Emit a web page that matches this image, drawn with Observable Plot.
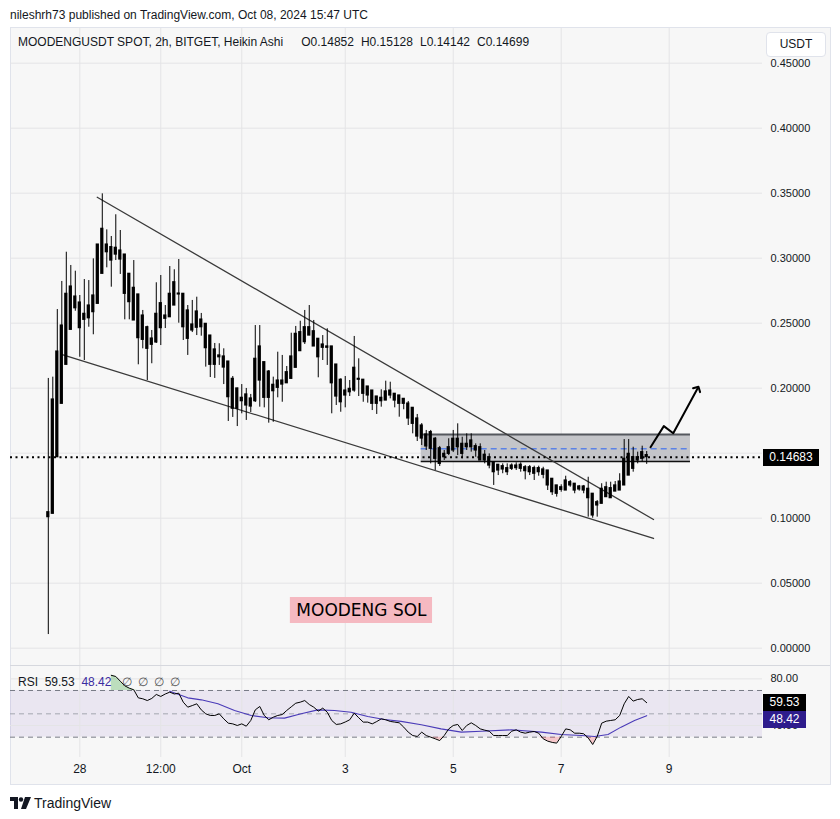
<!DOCTYPE html>
<html><head><meta charset="utf-8">
<script src="https://cdn.jsdelivr.net/npm/d3@7"></script>
<script src="https://cdn.jsdelivr.net/npm/@observablehq/plot@0.6"></script>
<style>
html,body{margin:0;padding:0;background:#fff;}
body{width:840px;height:819px;position:relative;overflow:hidden;font-family:"Liberation Sans",Arial,sans-serif;color:#131722;}
.abs{position:absolute;white-space:nowrap;}
#frame{position:absolute;left:10px;top:27px;width:819px;height:756px;background:#f7f7f7;border:1px solid #e0e3eb;}
#sep{position:absolute;left:10px;top:665px;width:820px;height:1px;background:#d6d8de;}
.badge{position:absolute;color:#fff;font-size:12px;text-align:center;line-height:17px;}
.lg span{margin-left:7px;}
</style></head>
<body>
<div id="frame"></div>
<div id="main" class="abs" style="left:10px;top:28px;"></div>
<div id="rsi" class="abs" style="left:10px;top:666px;"></div>
<div id="sep"></div>

<div class="abs" style="left:10px;top:8px;font-size:12px;color:#131722;">nileshrh73 published on TradingView.com, Oct 08, 2024 15:47 UTC</div>
<div class="abs lg" style="left:18px;top:35px;font-size:12px;color:#131722;">MOODENGUSDT SPOT, 2h, BITGET, Heikin Ashi<span style="margin-left:18px">O0.14852</span><span>H0.15128</span><span>L0.14142</span><span>C0.14699</span></div>

<div class="abs" style="left:763px;top:29px;width:66px;height:30px;background:#f7f7f7;"></div>
<div class="abs" style="left:766px;top:32px;width:58px;height:23px;background:#fff;border:1px solid #e0e3eb;border-radius:4px;font-size:12px;line-height:23px;text-align:center;">USDT</div>

<div class="badge" style="left:763px;top:449px;width:56px;height:17px;background:#000;">0.14683</div>

<div class="abs" style="left:18px;top:675px;font-size:12px;"><span>RSI</span>&nbsp;&nbsp;<span>59.53</span>&nbsp;&nbsp;<span style="color:#3b2ba0">48.42</span><span style="color:#555;margin-left:11px;letter-spacing:6px">∅∅∅∅</span></div>
<div class="badge" style="left:763px;top:694px;width:43px;height:17px;background:#000;">59.53</div>
<div class="badge" style="left:763px;top:711px;width:43px;height:17px;background:#2e1c8c;">48.42</div>

<div class="abs" style="left:10px;top:793px;">
<svg width="22" height="14" viewBox="0 0 22 14" style="vertical-align:middle">
<path d="M0 1h8v12H4V5H0z" fill="#131722"/><circle cx="11" cy="3.5" r="2.2" fill="#131722"/><path d="M15 1h6l-5 12h-5z" fill="#131722"/>
</svg><span style="font-size:14px;margin-left:2px;vertical-align:middle;">TradingView</span></div>

<script>
// ---------- DATA ----------
const candleIdx = d3.range(1, 135);
const open  = [0.1008,0.1034,0.1469,0.1880,0.2180,0.2449,0.2615,0.2659,0.2572,0.2538,0.2585,0.2649,0.2880,0.3105,0.3085,0.3028,0.3059,0.3028,0.2880,0.2772,0.2721,0.2559,0.2469,0.2382,0.2352,0.2654,0.2559,0.2546,0.2636,0.2728,0.2726,0.2598,0.2490,0.2465,0.2528,0.2495,0.2405,0.2298,0.2252,0.2244,0.2205,0.2072,0.1998,0.1926,0.1952,0.1921,0.1900,0.2059,0.2200,0.2128,0.2026,0.2003,0.2028,0.2038,0.2072,0.2157,0.2285,0.2354,0.2405,0.2438,0.2380,0.2336,0.2321,0.2321,0.2182,0.2065,0.1982,0.1995,0.1982,0.2072,0.2065,0.2013,0.1982,0.1936,0.1926,0.1905,0.1982,0.1957,0.1944,0.1918,0.1882,0.1849,0.1767,0.1713,0.1644,0.1662,0.1611,0.1538,0.1495,0.1495,0.1521,0.1546,0.1572,0.1546,0.1546,0.1554,0.1546,0.1488,0.1469,0.1431,0.1411,0.1400,0.1385,0.1380,0.1385,0.1411,0.1392,0.1392,0.1385,0.1385,0.1375,0.1367,0.1303,0.1252,0.1238,0.1213,0.1277,0.1265,0.1244,0.1244,0.1226,0.1188,0.1123,0.1111,0.1162,0.1154,0.1205,0.1213,0.1252,0.1328,0.1469,0.1469,0.1457,0.14852];
const high  = [0.2075,0.2085,0.2605,0.2821,0.3046,0.2944,0.2900,0.2713,0.2836,0.2828,0.2995,0.3105,0.3495,0.3218,0.3167,0.3334,0.3213,0.3028,0.2880,0.2982,0.2721,0.2598,0.2477,0.2444,0.2811,0.2867,0.2636,0.2936,0.2911,0.2990,0.2726,0.2636,0.2675,0.2700,0.2575,0.2495,0.2405,0.2344,0.2342,0.2303,0.2205,0.2090,0.2000,0.2028,0.1998,0.1952,0.2482,0.2482,0.2200,0.2136,0.2085,0.2277,0.2252,0.2167,0.2423,0.2475,0.2515,0.2598,0.2636,0.2521,0.2380,0.2405,0.2457,0.2321,0.2182,0.2072,0.2090,0.2059,0.2398,0.2226,0.2065,0.2013,0.1982,0.1936,0.1988,0.2054,0.2046,0.1957,0.1944,0.1918,0.1898,0.1849,0.1798,0.1728,0.1675,0.1675,0.1621,0.1552,0.1521,0.1611,0.1675,0.1726,0.1623,0.1649,0.1649,0.1572,0.1572,0.1521,0.1495,0.1431,0.1411,0.1418,0.1418,0.1418,0.1426,0.1426,0.1405,0.1405,0.1400,0.1400,0.1392,0.1367,0.1303,0.1252,0.1257,0.1323,0.1290,0.1265,0.1252,0.1252,0.1315,0.1188,0.1136,0.1265,0.1277,0.1277,0.1282,0.1342,0.1605,0.1605,0.1546,0.1508,0.1554,0.15128];
const low   = [0.0105,0.1034,0.1469,0.1880,0.2180,0.2449,0.2592,0.2238,0.2213,0.2469,0.2411,0.2649,0.2880,0.2926,0.2777,0.2982,0.2875,0.2526,0.2526,0.2521,0.2180,0.2303,0.2059,0.2188,0.2344,0.2328,0.2459,0.2546,0.2636,0.2500,0.2367,0.2252,0.2428,0.2405,0.2400,0.2162,0.2082,0.2075,0.2175,0.2028,0.1744,0.1775,0.1705,0.1803,0.1752,0.1813,0.1890,0.1854,0.1849,0.1731,0.1738,0.1926,0.1892,0.2038,0.2072,0.2157,0.2285,0.2336,0.2405,0.2321,0.2080,0.2213,0.2175,0.1803,0.1867,0.1815,0.1849,0.1936,0.1969,0.1936,0.1892,0.1885,0.1828,0.1798,0.1854,0.1905,0.1918,0.1849,0.1777,0.1834,0.1713,0.1649,0.1590,0.1559,0.1521,0.1418,0.1367,0.1398,0.1444,0.1482,0.1505,0.1482,0.1457,0.1521,0.1508,0.1469,0.1444,0.1418,0.1380,0.1252,0.1328,0.1342,0.1328,0.1367,0.1367,0.1354,0.1295,0.1328,0.1290,0.1323,0.1303,0.1213,0.1175,0.1162,0.1200,0.1213,0.1238,0.1188,0.1208,0.1188,0.1008,0.1000,0.1008,0.1111,0.1162,0.1154,0.1205,0.1213,0.1252,0.1328,0.1354,0.1418,0.1431,0.14142];
const close = [0.1046,0.1913,0.2282,0.2482,0.2726,0.2782,0.2705,0.2462,0.2526,0.2636,0.2713,0.3105,0.3226,0.3046,0.2982,0.3080,0.2990,0.2726,0.2662,0.2521,0.2385,0.2372,0.2303,0.2334,0.2572,0.2462,0.2534,0.2726,0.2815,0.2721,0.2469,0.2380,0.2444,0.2590,0.2469,0.2308,0.2180,0.2180,0.2238,0.2159,0.1931,0.1842,0.1842,0.1900,0.1867,0.1859,0.2226,0.2321,0.1926,0.1926,0.1977,0.2059,0.2059,0.2123,0.2244,0.2418,0.2431,0.2469,0.2469,0.2321,0.2238,0.2311,0.2311,0.2038,0.1936,0.1892,0.1944,0.1969,0.2157,0.2065,0.1957,0.1944,0.1880,0.1880,0.1900,0.1975,0.1944,0.1905,0.1880,0.1880,0.1767,0.1726,0.1628,0.1613,0.1552,0.1534,0.1457,0.1418,0.1469,0.1546,0.1611,0.1611,0.1495,0.1572,0.1598,0.1521,0.1444,0.1444,0.1405,0.1354,0.1367,0.1375,0.1354,0.1405,0.1405,0.1380,0.1362,0.1354,0.1342,0.1354,0.1334,0.1252,0.1200,0.1188,0.1218,0.1290,0.1252,0.1213,0.1221,0.1213,0.1154,0.1021,0.1098,0.1226,0.1238,0.1231,0.1252,0.1282,0.1457,0.1495,0.1380,0.1444,0.1508,0.14699];

const rsiIdx = d3.range(15, 135);
const rsiVal = [83,82,78,74,72,70.6,63.7,62.9,61.4,63.2,66.6,64.9,67,68.6,67,67.7,60,55.7,57.1,58.6,53.4,50,48.6,48.6,50,45.7,42,41.4,40,41.4,39.4,44.3,53.4,56.3,48.6,44.9,47.1,48.6,49.4,52.9,56,59.1,60,61.4,58,55.7,52.3,54.9,51.4,44.3,40.9,41.4,43,44.9,50.6,46.6,42.9,42.9,41.4,43.4,45.7,44.9,43.5,42.9,42.3,38.6,34.3,31.4,30.6,34.3,31.4,30,28.6,27.1,31.4,37.1,40,40.9,35.7,40,42.3,40,37.1,36,35.1,31.4,31.4,31.4,31.4,35.1,36.3,34.3,33.4,34.3,34.9,33.4,28.6,26.6,25.5,24.9,30.6,37.1,36.3,33.4,33.4,32.9,29.4,23.7,30.6,42,43.7,44.3,44.9,48.6,58.6,64.9,60.9,62.3,62.9,59.53];
const maIdx = [28,32,35,38.7,42.4,46.1,49.8,53.5,57.2,60.9,64.6,68.3,72,75.7,79.4,83.9,88.3,92.8,97.2,103.9,110.6,115,119.5,122.4,125.4,128.3,131.3,134];
const maVal = [69.4,63.7,62,58.6,52.9,48.6,46.6,46.3,50,53.4,52.9,51.4,47.7,45.1,43.5,40.7,37.1,34.3,35.1,36.3,34.3,32.3,31.4,30.6,32.3,38.6,44.3,48.42];

const priceTicks = [0,0.05,0.10,0.15,0.20,0.25,0.30,0.35,0.40,0.45];
const priceLabelTicks = [0,0.05,0.10,0.20,0.25,0.30,0.35,0.40,0.45]; // 0.15 hidden under price badge
const rsiTicks = [80,40];
const rsiLevels = [70,50,30];
const timeTickIdx = [8,26,44,67,91,115,139];
const timeTickLabels = ["28","12:00","Oct","3","5","7","9"];

const lastPrice = 0.14683;
const upperTrend = {i:[11.87,135.52], p:[0.3469,0.0990]};
const lowerTrend = {i:[4.09,135.52],  p:[0.2259,0.0844]};
const zoneBox = {i1:83.88, i2:143.73, p1:0.1436, p2:0.1644, mid:0.1534};
const arrowPath = {i:[134.85,137.81,139.9,145.3], p:[0.1546,0.1708,0.1654,0.1998]};
const labelBox = {i1:54.8, i2:86.4, p1:0.0190, p2:0.0390, text:"MOODENG SOL"};

// ---------- SCALES ----------
const xDomain = [-7.403, 159.74];
const W = 820, MR = 68;

const candles = candleIdx.map((i,k)=>({i, o:open[k], h:high[k], l:low[k], c:close[k]}));
const pairs = (o)=>o.i.map((v,k)=>({i:v, p:o.p[k]}));

const main = Plot.plot({
  width: W, height: 638,
  marginLeft: 0, marginRight: MR, marginTop: 0, marginBottom: 0,
  style: {background:"transparent", fontFamily:"Liberation Sans, Arial, sans-serif", fontSize:"11px", color:"#131722", overflow:"visible"},
  x: {domain: xDomain, axis: null, label: null},
  y: {domain: [-0.014077, 0.47669], label: null},
  marks: [
    Plot.gridY(priceTicks, {stroke:"#e4e4e6", strokeOpacity:1}),
    Plot.gridX(timeTickIdx, {stroke:"#e4e4e6", strokeOpacity:1}),
    Plot.axisY(priceLabelTicks, {anchor:"right", label:null, tickSize:0, tickPadding:8, tickFormat:d=>d.toFixed(5), fontSize:11, fill:"#131722"}),
    // zone box
    Plot.rect([zoneBox], {x1:"i1", x2:"i2", y1:"p1", y2:"p2", fill:"#c4c5c9"}),
    Plot.ruleY([zoneBox], {x1:"i1", x2:"i2", y:"p2", stroke:"#55585e", strokeWidth:2}),
    Plot.ruleY([zoneBox], {x1:"i1", x2:"i2", y:"p1", stroke:"#111", strokeWidth:1.5}),
    Plot.ruleY([zoneBox], {x1:"i1", x2:"i2", y:"mid", stroke:"#5b82e6", strokeWidth:1.5, strokeDasharray:"6,4"}),
    // trend lines
    Plot.line(pairs(upperTrend), {x:"i", y:"p", stroke:"#3a3a3a", strokeWidth:1.3}),
    Plot.line(pairs(lowerTrend), {x:"i", y:"p", stroke:"#3a3a3a", strokeWidth:1.3}),
    // candles
    Plot.ruleX(candles, {x:"i", y1:"l", y2:"h", stroke:"#000", strokeWidth:1}),
    Plot.rect(candles, {x1:d=>d.i-0.36, x2:d=>d.i+0.36, y1:d=>Math.min(d.o,d.c), y2:d=>Math.max(d.o,d.c), fill:"#000", insetTop:-0.6, insetBottom:-0.6}),
    // last price dotted line
    Plot.ruleY([lastPrice], {stroke:"#000", strokeWidth:2, strokeDasharray:"2,3.5"}),
    // arrow
    Plot.line(pairs(arrowPath), {x:"i", y:"p", stroke:"#000", strokeWidth:2, markerEnd:"arrow"}),
    // label
    Plot.rect([labelBox], {x1:"i1", x2:"i2", y1:"p1", y2:"p2", fill:"#f5b9c1"}),
    Plot.text([labelBox], {x:d=>(d.i1+d.i2)/2, y:d=>(d.p1+d.p2)/2, text:"text", fontSize:17, fill:"#000", fontFamily:"DejaVu Sans, sans-serif"})
  ]
});
document.getElementById("main").appendChild(main);

const rsiData = rsiIdx.map((i,k)=>({i, v:rsiVal[k]}));
const maData = maIdx.map((i,k)=>({i, v:maVal[k]}));

const rsi = Plot.plot({
  width: W, height: 118,
  marginLeft: 0, marginRight: MR, marginTop: 0, marginBottom: 27,
  style: {background:"transparent", fontFamily:"Liberation Sans, Arial, sans-serif", fontSize:"12px", color:"#131722", overflow:"visible"},
  x: {domain: xDomain, label: null},
  y: {domain: [12.57, 90.57], label: null},
  marks: [
    Plot.rect([{a:30,b:70}], {x1:xDomain[0], x2:xDomain[1], y1:"a", y2:"b", fill:"rgba(126,87,194,0.1)"}),
    Plot.gridY(rsiTicks, {stroke:"#e4e4e6", strokeOpacity:1}),
    Plot.gridX(timeTickIdx, {stroke:"#e4e4e6", strokeOpacity:1}),
    Plot.ruleY(rsiLevels, {stroke:d=>d===50?"#a3a6af":"#787b86", strokeDasharray:"5,4", strokeWidth:1}),
    Plot.areaY(rsiData, {x:"i", y1:70, y2:d=>Math.max(d.v,70), fill:"rgba(76,175,80,0.35)"}),
    Plot.areaY(rsiData, {x:"i", y1:30, y2:d=>Math.min(d.v,30), fill:"rgba(242,54,69,0.25)"}),
    Plot.line(maData, {x:"i", y:"v", stroke:"#4a3bb8", strokeWidth:1.1}),
    Plot.line(rsiData, {x:"i", y:"v", stroke:"#000", strokeWidth:1}),
    Plot.axisY(rsiTicks, {anchor:"right", label:null, tickSize:0, tickPadding:8, tickFormat:d=>d.toFixed(2), fontSize:11, fill:"#131722"}),
    Plot.axisX(timeTickIdx, {anchor:"bottom", label:null, tickSize:0, tickPadding:7, tickFormat:d=>timeTickLabels[timeTickIdx.indexOf(d)], fontSize:12, fill:"#131722"})
  ]
});
document.getElementById("rsi").appendChild(rsi);
</script>
</body></html>
